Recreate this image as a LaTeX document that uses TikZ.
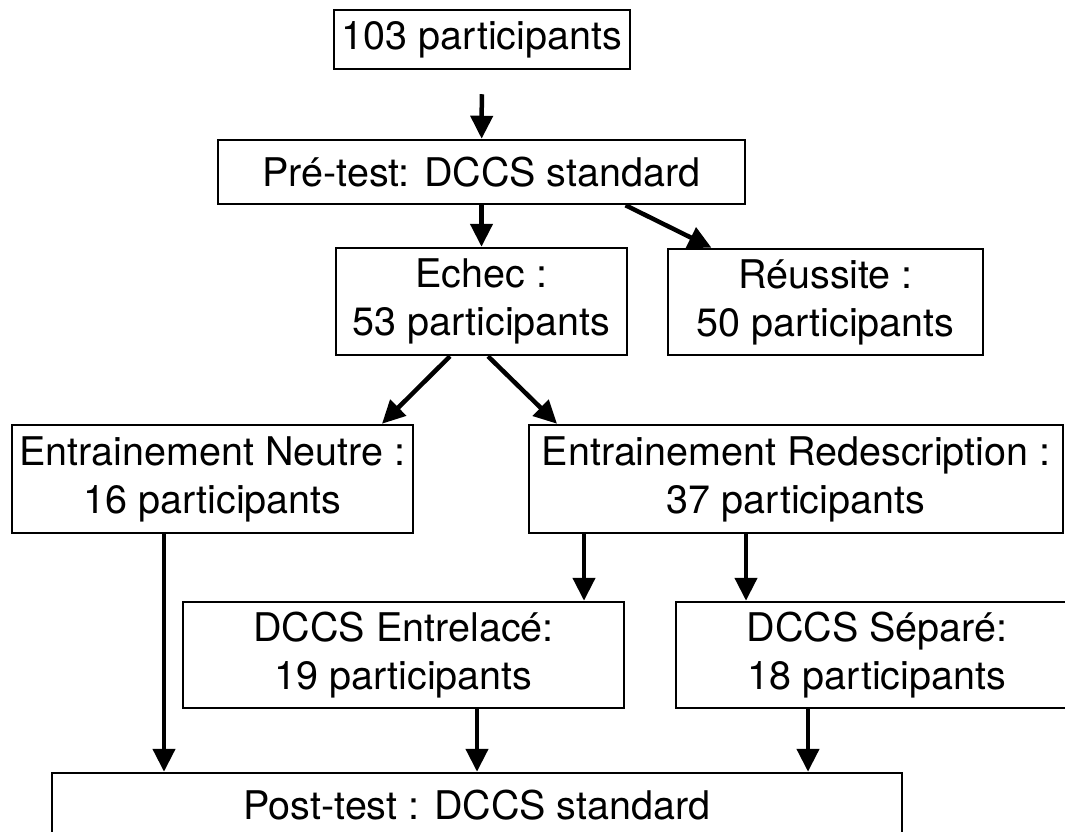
\documentclass[tikz,border=0pt]{standalone}
\usepackage{fontspec}
\setmainfont{TeX Gyre Heros}
\usetikzlibrary{arrows.meta}

\begin{document}
\begin{tikzpicture}[
	x=1pt, y=-1pt,
	box/.style={rectangle, draw, line width=2.5pt, inner sep=0pt, text centered, align=center, font=\fontsize{39.5}{48}\selectfont},
	arrow/.style={line width=4.5pt, -{Triangle[length=23pt, width=22pt]}}
	]
	\path[use as bounding box, clip] (0,0) rectangle (1065,832);
	
	% Nodes
	\node[box, minimum width=296pt, minimum height=59pt] (total) at (482,39.5) {103 participants};
	\node[box, minimum width=527pt, minimum height=64pt] (pretest) at (481.5,172) {Pré-test: DCCS standard};
	
	\node[box, minimum width=291pt, minimum height=107pt] (echec) at (481.5,301.5) {Echec :\\53 participants};
	\node[box, minimum width=315pt, minimum height=106pt] (reussite) at (825.5,302) {Réussite :\\50 participants};
	
	\node[box, minimum width=401pt, minimum height=108pt] (neutre) at (212.5,479) {Entrainement Neutre :\\16 participants};
	\node[box, minimum width=534pt, minimum height=108pt] (redesc) at (796,479) {Entrainement Redescription :\\37 participants};
	
	\node[box, minimum width=441pt, minimum height=106pt] (entrelace) at (403.5,655) {DCCS Entrelacé:\\19 participants};
	\node[box, minimum width=402pt, minimum height=106pt] (separe) at (877,655) {DCCS Séparé:\\18 participants};
	
	\node[box, minimum width=850pt, minimum height=64pt] (posttest) at (477,805) {Post-test : DCCS standard};
	
	% Arrows
	\draw[arrow, shorten <=24pt] (total) -- (pretest);
	\draw[arrow] (pretest) -- (echec);
	\draw[arrow] ([xshift=144pt]pretest.south) -- ([xshift=-114pt]reussite.north);
	
	\draw[arrow] ([xshift=-31.5pt]echec.south) -- ([xshift=169.5pt]neutre.north);
	\draw[arrow] ([xshift=6.5pt]echec.south) -- ([xshift=-239pt]redesc.north);
	
	% Redescription splits in two
	\coordinate (r1) at ([xshift=-212pt]redesc.south);
	\coordinate (r2) at ([xshift=-50pt]redesc.south);
	\draw[arrow] (r1) -- (r1 |- entrelace.north);
	\draw[arrow] (r2) -- (r2 |- separe.north);
	
	% Down to the post-test
	\coordinate (p1) at ([xshift=-48.5pt]neutre.south);
	\coordinate (p2) at ([xshift=73.5pt]entrelace.south);
	\coordinate (p3) at ([xshift=-69pt]separe.south);
	\draw[arrow] (p1) -- (p1 |- posttest.north);
	\draw[arrow] (p2) -- (p2 |- posttest.north);
	\draw[arrow] (p3) -- (p3 |- posttest.north);
	
\end{tikzpicture}
\end{document}
